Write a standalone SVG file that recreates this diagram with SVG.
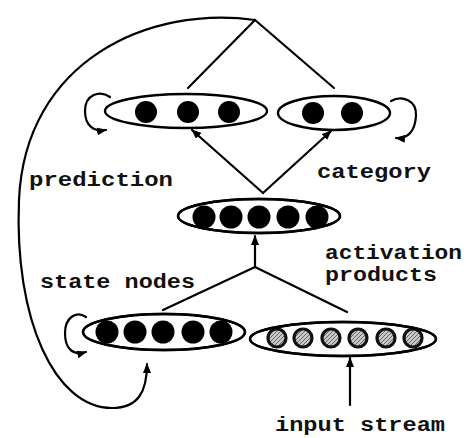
<svg xmlns="http://www.w3.org/2000/svg" width="467" height="438" viewBox="0 0 467 438">
<style>
.ln{fill:none;stroke:#000;stroke-width:2.2;stroke-linecap:round}
.el{fill:#fff;stroke:#000;stroke-width:2.4}
.elo{fill:none;stroke:#000;stroke-width:2.4}
.dot{fill:#000}
.gd{fill:url(#hatch);stroke:#111;stroke-width:3.2}
.t{font-family:"Liberation Mono","Courier New",monospace;font-size:20px;font-weight:bold;fill:#111}
</style>
<defs>
<marker id="ah" viewBox="0 0 10 8" refX="9" refY="4" markerWidth="10" markerHeight="8" markerUnits="userSpaceOnUse" orient="auto">
<path d="M0,0 L10,4 L0,8 Z" fill="#000"/>
</marker>
<pattern id="hatch" width="4" height="4" patternUnits="userSpaceOnUse">
<rect width="4" height="4" fill="#c8c8c8"/>
<path d="M0,4 L4,0" stroke="#666" stroke-width="1"/>
</pattern>
<clipPath id="cMid"><ellipse cx="259" cy="216" rx="81" ry="17"/></clipPath>
<clipPath id="cLL"><ellipse cx="164" cy="332" rx="81" ry="18"/></clipPath>
<clipPath id="cLR"><ellipse cx="343" cy="339" rx="93" ry="17"/></clipPath>
</defs>

<g id="connectors">
<path class="ln" d="M255,20 C150,5 25,60 19,200 C14,320 55,408 112,408 C138,408 147,392 147,364" marker-end="url(#ah)"/>
<path class="ln" d="M255,20 L188,88"/>
<path class="ln" d="M255,20 L334,88"/>
<path class="ln" d="M263,193 L192,130" marker-end="url(#ah)"/>
<path class="ln" d="M263,193 L331,131" marker-end="url(#ah)"/>
<path class="ln" d="M255,267 L255,236" marker-end="url(#ah)"/>
<path class="ln" d="M255,267 L163,310"/>
<path class="ln" d="M255,267 L347,312"/>
<path class="ln" d="M350,405 L350,358" marker-end="url(#ah)"/>
<path class="ln" d="M110,97 C100,90 85,94 85,111 C85,126 94,132 106,130" marker-end="url(#ah)"/>
<path class="ln" d="M391,101 C402,95 417,100 416,116 C415,132 407,139 396,138" marker-end="url(#ah)"/>
<path class="ln" d="M86,317 C76,310 65,318 65,333 C65,348 72,356 86,352" marker-end="url(#ah)"/>
</g>

<g id="prediction">
<ellipse class="el" cx="186" cy="111" rx="81" ry="17"/>
<circle class="dot" cx="146" cy="112" r="11"/>
<circle class="dot" cx="188" cy="112" r="11"/>
<circle class="dot" cx="229" cy="112" r="11"/>
</g>

<g id="category">
<ellipse class="el" cx="334" cy="113" rx="56" ry="17"/>
<circle class="dot" cx="313" cy="113" r="11"/>
<circle class="dot" cx="352" cy="113" r="11"/>
</g>

<g id="activation-products">
<ellipse class="el" cx="259" cy="216" rx="81" ry="17"/>
<g clip-path="url(#cMid)">
<circle class="dot" cx="204" cy="217" r="11.5"/>
<circle class="dot" cx="231" cy="217" r="11.5"/>
<circle class="dot" cx="259" cy="217" r="11.5"/>
<circle class="dot" cx="288" cy="217" r="11.5"/>
<circle class="dot" cx="317" cy="217" r="11.5"/>
</g>
<ellipse class="elo" cx="259" cy="216" rx="81" ry="17"/>
</g>

<g id="state-nodes">
<ellipse class="el" cx="164" cy="332" rx="81" ry="18"/>
<g clip-path="url(#cLL)">
<circle class="dot" cx="107" cy="332" r="11.5"/>
<circle class="dot" cx="135" cy="332" r="11.5"/>
<circle class="dot" cx="163" cy="332" r="11.5"/>
<circle class="dot" cx="193" cy="332" r="11.5"/>
<circle class="dot" cx="221" cy="332" r="11.5"/>
</g>
<ellipse class="elo" cx="164" cy="332" rx="81" ry="18"/>
</g>

<g id="input-stream">
<ellipse class="el" cx="343" cy="339" rx="93" ry="17"/>
<g clip-path="url(#cLR)">
<circle class="gd" cx="277" cy="338" r="9"/>
<circle class="gd" cx="303" cy="338" r="9"/>
<circle class="gd" cx="331" cy="338" r="9"/>
<circle class="gd" cx="358" cy="338" r="9"/>
<circle class="gd" cx="386" cy="338" r="9"/>
<circle class="gd" cx="413" cy="338" r="9"/>
</g>
<ellipse class="elo" cx="343" cy="339" rx="93" ry="17"/>
</g>

<g id="labels">
<text class="t" x="29" y="186" textLength="144" lengthAdjust="spacingAndGlyphs">prediction</text>
<text class="t" x="317" y="178" textLength="114" lengthAdjust="spacingAndGlyphs">category</text>
<text class="t" x="40" y="288" textLength="155" lengthAdjust="spacingAndGlyphs">state nodes</text>
<text class="t" x="325" y="259" textLength="137" lengthAdjust="spacingAndGlyphs">activation</text>
<text class="t" x="325" y="281" textLength="112" lengthAdjust="spacingAndGlyphs">products</text>
<text class="t" x="275" y="431" textLength="170" lengthAdjust="spacingAndGlyphs">input stream</text>
</g>
</svg>
